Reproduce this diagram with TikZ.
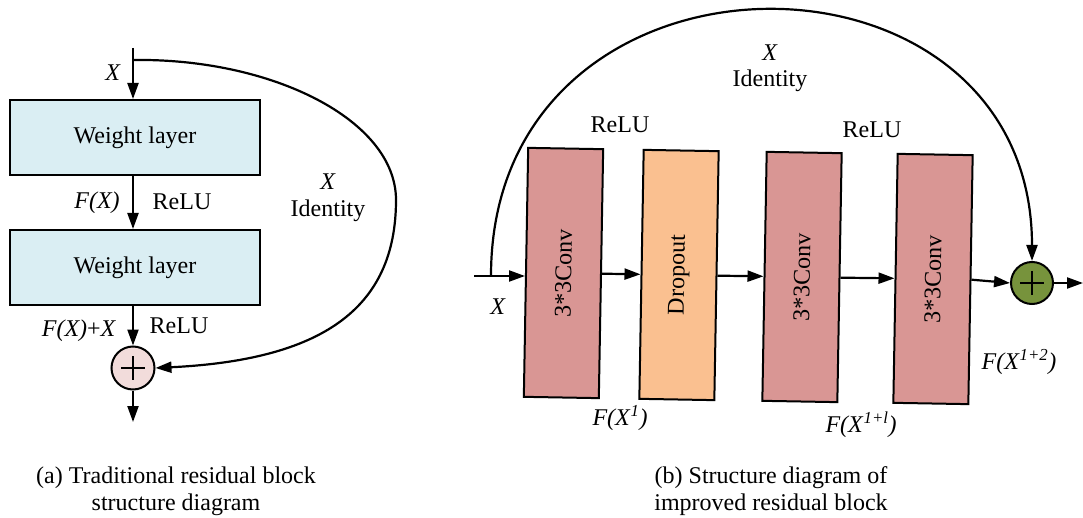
\documentclass[tikz,border=0pt]{standalone}
\usepackage{fontspec}
\setmainfont{Liberation Serif}
\usetikzlibrary{arrows.meta}
\definecolor{wlblue}{HTML}{DAEEF3}
\definecolor{pluspink}{HTML}{F2DCDB}
\definecolor{convred}{HTML}{D99694}
\definecolor{dropor}{HTML}{FAC090}
\definecolor{plusgreen}{HTML}{77933C}
\begin{document}
\begin{tikzpicture}[x=1pt,y=-1pt,
  font=\fontsize{24}{27}\selectfont,
  every node/.style={inner sep=0pt},
  wl/.style={draw, line width=2pt, fill=wlblue, minimum width=250pt, minimum height=75pt},
  conv/.style={draw, line width=2pt, rotate=89, minimum width=249pt, minimum height=75pt},
  addc/.style={circle, draw, line width=2pt, minimum size=43pt},
  arr/.style={line width=2.2pt, -{Triangle[length=16pt,width=11pt]}},
  ln/.style={line width=2.2pt}]
\useasboundingbox (0,0) rectangle (1083,518);

% ---------- (a) ----------
\node[wl] (w1) at (135,137.5) {Weight layer};
\node[wl] (w2) at (135,267.5) {Weight layer};
\node[addc, fill=pluspink] (p1) at (133,368) {};
\draw[ln] (p1.center) +(-12,0) -- +(12,0) (p1.center) +(0,-12) -- +(0,12);
\coordinate (in1) at (133,48);
\coordinate (split1) at (133,60);
\coordinate (out1) at (133,422);
\draw[arr] (in1) -- (in1 |- w1.north);
\draw[arr] (w1.south -| p1) -- (w2.north -| p1);
\draw[arr] (w2.south -| p1) -- (p1.north);
\draw[arr] (p1.south) -- (out1);
\draw[arr] (split1) .. controls (272,58) and (396,120) .. (396,200)
  .. controls (396,310) and (320,360) .. (p1.east);

\node (lxa) at (113,73) {\textit{X}};
\node (lfxa) at (97,203) {\textit{F(X)}};
\node (lrelua1) at (182,202) {ReLU};
\node (lfxxa) at (79,331) {\textit{F(X)}+\textit{X}};
\node (lrelua2) at (179,326) {ReLU};
\node (lxida) at (328,182) {\textit{X}};
\node (lida) at (328,211) {Identity};
\node[align=center] (capa) at (176,491) {(a) Traditional residual block\\structure diagram};

% ---------- (b) ----------
\node[conv, fill=convred] (c1) at (563.5,273) {3*3Conv};
\node[conv, fill=dropor] (d1) at (679,275) {Dropout};
\node[conv, fill=convred] (c2) at (802,277) {3*3Conv};
\node[conv, fill=convred] (c3) at (933,279) {3*3Conv};
\node[addc, fill=plusgreen, minimum size=42pt] (p2) at (1032,283) {};
\draw[ln] (p2.center) +(-12,0) -- +(12,0) (p2.center) +(0,-12) -- +(0,12);
\coordinate (in2) at (474,276);
\coordinate (split2) at (491,276);
\coordinate (out2) at (1083,283);
\draw[arr] (in2) -- (in2 -| c1.north);
\draw[arr] (c1.south) -- (d1.north);
\draw[arr] (d1.south) -- (c2.north);
\draw[arr] (c2.south) -- (c3.north);
\draw[arr] (c3.south) -- (p2.west);
\draw[arr] (p2.east) -- (out2);
\draw[arr] (split2) .. controls (491,-75) and (1032,-75) .. (p2.north);

\node (lxb) at (770,53) {\textit{X}};
\node (lidb) at (770,81) {Identity};
\node (lrelub1) at (620,125) {ReLU};
\node (lrelub2) at (872,130) {ReLU};
\node (lxin) at (498,307) {\textit{X}};
\node (lf1) at (620,418) {\textit{F(X}\textsuperscript{\textit{1}}\textit{)}};
\node (lf2) at (861,425) {\textit{F(X}\textsuperscript{\textit{1+l}}\textit{)}};
\node (lf3) at (1019,362) {\textit{F(X}\textsuperscript{\textit{1+2}}\textit{)}};
\node[align=center] (capb) at (771,491) {(b) Structure diagram of\\improved residual block};
\end{tikzpicture}
\end{document}
